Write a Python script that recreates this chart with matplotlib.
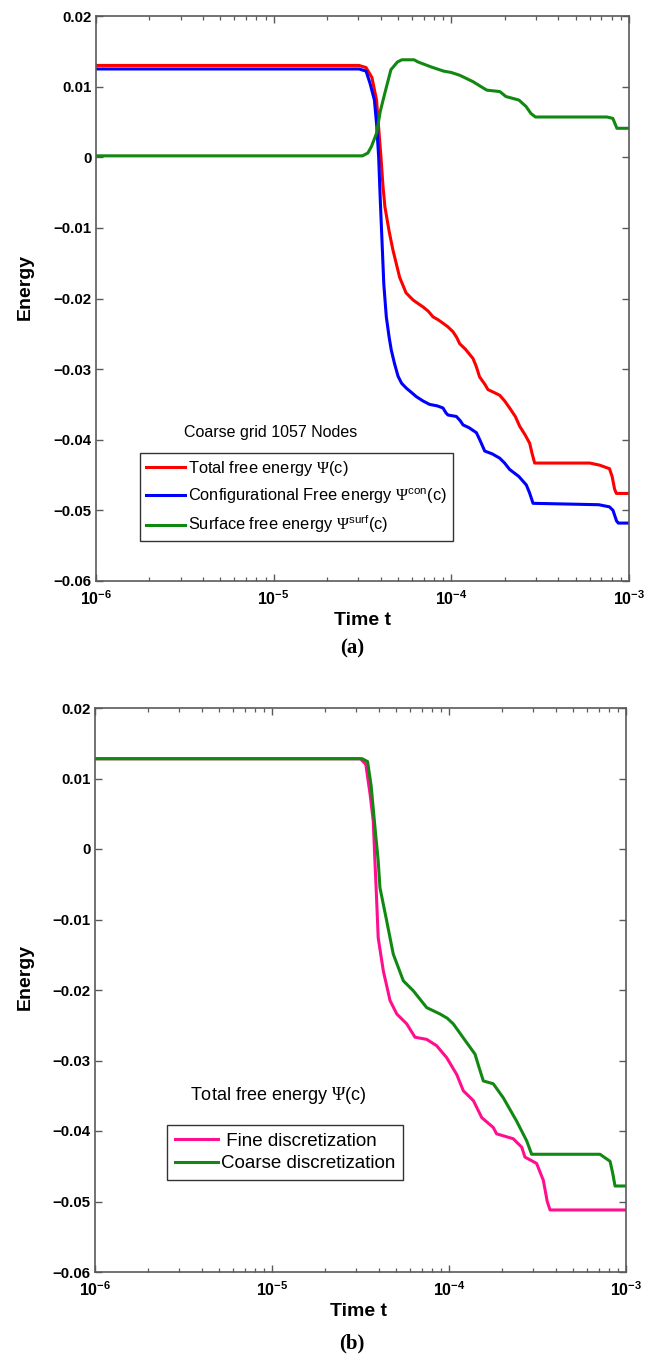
import numpy as np
import matplotlib
matplotlib.use('Agg')
import matplotlib.pyplot as plt
from matplotlib.ticker import LogLocator, NullFormatter

plt.rcParams['font.family'] = ['Liberation Sans', 'DejaVu Sans']
plt.rcParams['mathtext.fontset'] = 'custom'
plt.rcParams['mathtext.rm'] = 'Liberation Sans'
plt.rcParams['mathtext.bf'] = 'Liberation Sans:bold'
plt.rcParams['mathtext.it'] = 'Liberation Sans:italic'
plt.rcParams['mathtext.cal'] = 'Liberation Serif'

# ---- panel (a): coarse grid, 1057 nodes (time given as log10 t) ----
logt_total = [-6.0, -4.52, -4.48, -4.447, -4.421, -4.41, -4.396, -4.385, -4.374, -4.35,
              -4.329, -4.291, -4.255, -4.216, -4.188, -4.159, -4.13, -4.103, -4.075, -4.047,
              -4.02, -3.991, -3.97, -3.953, -3.92, -3.878, -3.86, -3.841, -3.81, -3.794,
              -3.76, -3.728, -3.70, -3.672, -3.64, -3.615, -3.585, -3.559, -3.545, -3.531,
              -3.22, -3.165, -3.11, -3.095, -3.081, -3.071, -3.0]
e_total = [0.0130, 0.0130, 0.0127, 0.0113, 0.0081, 0.0045, 0.0, -0.0040, -0.0070, -0.0105,
           -0.0131, -0.0170, -0.0192, -0.0202, -0.0207, -0.0212, -0.0218, -0.0226, -0.0230, -0.0235,
           -0.0240, -0.0247, -0.0255, -0.0264, -0.0272, -0.0285, -0.0296, -0.0311, -0.0322, -0.0329,
           -0.0333, -0.0337, -0.0345, -0.0355, -0.0367, -0.0381, -0.0393, -0.0405, -0.0420, -0.0433,
           -0.0433, -0.0436, -0.0441, -0.0452, -0.0470, -0.0476, -0.0476]

logt_con = [-6.0, -4.52, -4.48, -4.458, -4.433, -4.42, -4.409, -4.40, -4.39, -4.38,
            -4.366, -4.35, -4.338, -4.32, -4.30, -4.28, -4.253, -4.22, -4.197, -4.16,
            -4.122, -4.08, -4.047, -4.03, -4.019, -3.972, -3.95, -3.934, -3.90, -3.859,
            -3.84, -3.812, -3.77, -3.728, -3.70, -3.672, -3.62, -3.578, -3.56, -3.54,
            -3.17, -3.11, -3.09, -3.07, -3.06, -3.0]
e_con = [0.0125, 0.0125, 0.0122, 0.0105, 0.0081, 0.0045, 0.0, -0.0060, -0.0120, -0.0180,
         -0.0226, -0.0255, -0.0273, -0.0292, -0.0310, -0.0320, -0.0327, -0.0334, -0.0339, -0.0345,
         -0.0350, -0.0352, -0.0355, -0.0362, -0.0365, -0.0367, -0.0373, -0.0379, -0.0383, -0.0390,
         -0.0400, -0.0416, -0.0420, -0.0426, -0.0433, -0.0442, -0.0452, -0.0464, -0.0475, -0.0490,
         -0.0492, -0.0495, -0.0500, -0.0515, -0.0518, -0.0518]

logt_surf = [-6.0, -4.50, -4.47, -4.45, -4.421, -4.40, -4.374, -4.34, -4.303, -4.278,
             -4.21, -4.188, -4.115, -4.044, -4.00, -3.952, -3.878, -3.833, -3.80, -3.727,
             -3.693, -3.62, -3.58, -3.552, -3.527, -3.124, -3.091, -3.068, -3.0]
e_surf = [0.0002, 0.0002, 0.0006, 0.0015, 0.0034, 0.0065, 0.0091, 0.0124, 0.0135, 0.0138,
          0.0138, 0.0135, 0.0128, 0.0122, 0.0120, 0.0116, 0.0107, 0.0100, 0.0095, 0.0093,
          0.0086, 0.0081, 0.0072, 0.0062, 0.0057, 0.0057, 0.0055, 0.0041, 0.0041]

# ---- panel (b): total free energy, fine vs coarse ----
logt_fine = [-6.0, -4.50, -4.47, -4.446, -4.428, -4.418, -4.41, -4.40, -4.371, -4.333,
             -4.295, -4.239, -4.192, -4.126, -4.07, -4.013, -3.956, -3.919, -3.862, -3.815,
             -3.750, -3.731, -3.637, -3.589, -3.571, -3.505, -3.467, -3.445, -3.429, -3.0]
e_fine = [0.0128, 0.0128, 0.0120, 0.0078, 0.0040, -0.0020, -0.0065, -0.0126, -0.0173, -0.0215,
          -0.0234, -0.0248, -0.0267, -0.0270, -0.0279, -0.0296, -0.0320, -0.0343, -0.0357, -0.0381,
          -0.0395, -0.0404, -0.0411, -0.0423, -0.0437, -0.0446, -0.0470, -0.0500, -0.0512, -0.0512]

logt_coarse = [-6.0, -4.49, -4.46, -4.44, -4.418, -4.40, -4.39, -4.352, -4.315, -4.258,
               -4.202, -4.126, -4.051, -4.01, -3.976, -3.919, -3.853, -3.83, -3.806, -3.750,
               -3.693, -3.618, -3.561, -3.533, -3.147, -3.09, -3.075, -3.062, -3.0]
e_coarse = [0.0128, 0.0128, 0.0124, 0.0090, 0.0030, -0.0017, -0.0055, -0.0102, -0.0149, -0.0187,
            -0.0201, -0.0225, -0.0234, -0.0240, -0.0248, -0.0268, -0.0291, -0.0310, -0.0329, -0.0333,
            -0.0353, -0.0386, -0.0414, -0.0433, -0.0433, -0.0443, -0.0460, -0.0478, -0.0478]

xticks = [1e-6, 1e-5, 1e-4, 1e-3]
xticklabels = [r'$\mathbf{10^{-6}}$', r'$\mathbf{10^{-5}}$', r'$\mathbf{10^{-4}}$', r'$\mathbf{10^{-3}}$']
yticks = [0.02, 0.01, 0.0, -0.01, -0.02, -0.03, -0.04, -0.05, -0.06]
yticklabels = ['0.02', '0.01', '0', '\u22120.01', '\u22120.02', '\u22120.03',
               '\u22120.04', '\u22120.05', '\u22120.06']

W, H = 656, 1358
fig = plt.figure(figsize=(W / 100, H / 100), dpi=100)

def px_axes(l, t, r, b):
    return [l / W, 1 - b / H, (r - l) / W, (b - t) / H]

ax1 = fig.add_axes(px_axes(96, 16, 629, 581))
ax2 = fig.add_axes(px_axes(95, 708, 626, 1272))

spine_col = '#5a5a5a'

def style(ax):
    ax.set_xscale('log')
    ax.set_xlim(1e-6, 1e-3)
    ax.set_ylim(-0.06, 0.02)
    ax.set_xticks(xticks)
    ax.set_xticklabels(xticklabels, fontsize=11.5)
    ax.xaxis.set_minor_locator(LogLocator(base=10, subs=np.arange(2, 10)))
    ax.xaxis.set_minor_formatter(NullFormatter())
    ax.set_yticks(yticks)
    ax.set_yticklabels(yticklabels, fontweight='bold', fontsize=10.8)
    ax.tick_params(which='both', direction='in', top=True, right=True, color=spine_col)
    ax.tick_params(which='major', length=5, width=1)
    ax.tick_params(which='minor', length=3, width=0.9)
    ax.tick_params(axis='y', pad=3)
    ax.tick_params(axis='x', pad=6)
    for s in ax.spines.values():
        s.set_color(spine_col)
        s.set_linewidth(1.2)

lw = 2.2
ax1.plot(10 ** np.array(logt_total), e_total, color='#ff0000', lw=lw,
         label=r'Total free energy $\mathcal{\Psi}$(c)')
ax1.plot(10 ** np.array(logt_con), e_con, color='#0000ff', lw=lw,
         label=r'Configurational Free energy $\mathcal{\Psi}^{\mathrm{con}}$(c)')
ax1.plot(10 ** np.array(logt_surf), e_surf, color='#118811', lw=lw,
         label=r'Surface free energy $\mathcal{\Psi}^{\mathrm{surf}}$(c)')
style(ax1)

ax2.plot(10 ** np.array(logt_fine), e_fine, color='#ff0f8f', lw=lw,
         label=' Fine discretization')
ax2.plot(10 ** np.array(logt_coarse), e_coarse, color='#118811', lw=lw,
         label='Coarse discretization')
style(ax2)

leg_kw = dict(loc='upper left', frameon=True, fancybox=False,
              framealpha=1, edgecolor='#333333', borderaxespad=0,
              handletextpad=0.2)
l1 = ax1.legend(bbox_to_anchor=((140 - 96) / 533, (581 - 453) / 565), fontsize=11.8,
                handlelength=2.4, labelspacing=0.5, borderpad=0.35, **leg_kw)
l2 = ax2.legend(bbox_to_anchor=((167 - 95) / 531, (1272 - 1125) / 564), fontsize=13.5,
                handlelength=2.3, labelspacing=0.3, borderpad=0.4, **leg_kw)
for l in (l1, l2):
    l.get_frame().set_linewidth(1.0)

def ftext(x, y, s, **kw):
    fig.text(x / W, 1 - y / H, s, ha='center', va='center', **kw)

ftext(271, 433, 'Coarse grid 1057 Nodes', fontsize=11.5)
ftext(278, 1096, r'Total free energy $\mathcal{\Psi}$(c)', fontsize=13)

for yc in (287, 977):
    ftext(25, yc, 'Energy', fontsize=14, fontweight='bold', rotation=90)
ftext(362, 621, 'Time t', fontsize=14, fontweight='bold')
ftext(358, 1312, 'Time t', fontsize=14, fontweight='bold')
ftext(352, 648, '(a)', fontsize=15, fontweight='bold', family='Liberation Serif')
ftext(352, 1343, '(b)', fontsize=15, fontweight='bold', family='Liberation Serif')

fig.savefig('out.png', dpi=100)
